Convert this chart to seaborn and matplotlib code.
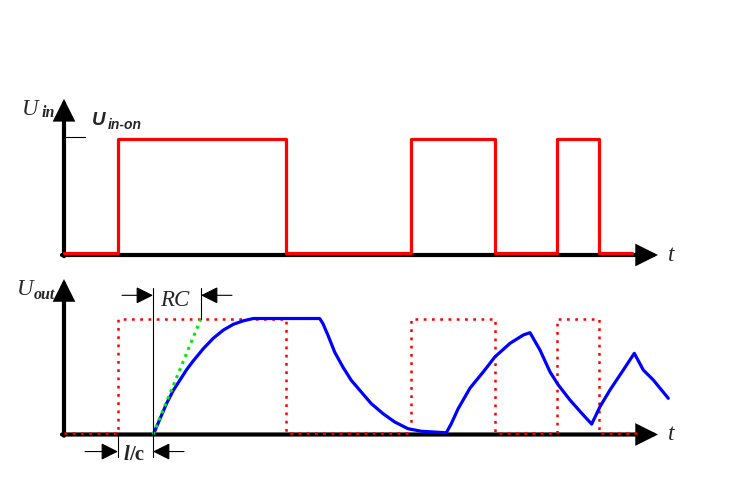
import matplotlib
matplotlib.use("Agg")
import matplotlib.pyplot as plt
import seaborn as sns

# ---------------- data ----------------
# input pulse train: switching times (arbitrary time units) and levels (fraction of U_in-on)
switch_t = [0.0, 5.4, 22.2, 34.7, 43.1, 49.3, 53.5, 56.8]
uin_level = [0.02, 1.0, 0.02, 1.0, 0.02, 1.0, 0.02, 0.02]
switch_t_ref = [0.0, 5.4, 22.2, 34.7, 43.1, 49.3, 53.5, 57.3]
ref_level = [0.015, 1.0, 0.015, 1.0, 0.015, 1.0, 0.015, 0.015]

# delayed RC response
uout_t = [8.93, 9.6, 10.27, 10.93, 11.6, 12.27, 12.93, 13.93, 14.93, 15.93, 16.93, 17.93, 18.93,
          25.57, 25.9, 26.4, 27.07, 27.9, 28.73, 29.73, 30.73, 31.9, 33.07, 34.4, 35.73,
          38.23, 38.73, 39.4, 40.6, 41.93, 43.1, 44.6, 45.93, 46.6,
          47.6, 48.6, 49.43, 50.6, 51.93, 52.77,
          53.6, 54.6, 55.93, 57.03,
          57.93, 58.93, 60.43]
uout_v = [0.0, 0.135, 0.27, 0.38, 0.47, 0.56, 0.635, 0.74, 0.83, 0.90, 0.95, 0.98, 1.0,
          1.0, 0.955, 0.855, 0.71, 0.58, 0.467, 0.366, 0.266, 0.18, 0.108, 0.05, 0.028,
          0.015, 0.093, 0.22, 0.40, 0.54, 0.67, 0.786, 0.858, 0.878,
          0.728, 0.54, 0.427, 0.297, 0.168, 0.09,
          0.24, 0.384, 0.556, 0.70,
          0.556, 0.47, 0.312]

t_on = 5.4      # first switch-on
delay = 3.5     # l/c
rc = 4.8        # RC time constant
t_axis_end = 59.4
v_axis_end = 1.34

# ---------------- figure ----------------
sns.set_theme(style="white")
plt.rcParams["font.family"] = ["Liberation Serif", "DejaVu Serif"]

W, H = 750, 486
fig = plt.figure(figsize=(W / 100, H / 100), dpi=100)
ax_top = fig.add_axes([0, 0, 1, 1])
ax_bot = fig.add_axes([0, 0, 1, 1])
for ax in (ax_top, ax_bot):
    ax.set_facecolor("none")
    ax.set_axis_off()


def arrow(ax, start, end, lw, ms, z=3):
    ax.annotate("", xy=end, xytext=start,
                arrowprops=dict(arrowstyle="-|>,head_length=1.0,head_width=0.5",
                                color="black", lw=lw, mutation_scale=ms,
                                shrinkA=0, shrinkB=0, joinstyle="miter"),
                zorder=z)


# ---- top panel: U_in ----
arrow(ax_top, (-0.2, 0), (t_axis_end, 0), 3.0, 11.5, z=1)
arrow(ax_top, (0, -0.01), (0, v_axis_end), 3.0, 11.5, z=1)
ax_top.plot([0, 2.1], [1.013, 1.013], color="black", lw=0.8)
sns.lineplot(x=switch_t, y=uin_level, ax=ax_top, color="#ff0000", lw=2.3,
             drawstyle="steps-post", estimator=None, sort=False, legend=False, zorder=2)

ax_top.text(-4.2, 1.20, "U", fontsize=16.5, style="italic", ha="left", va="baseline")
ax_top.text(-2.2, 1.185, "in", fontsize=11.5, style="italic", weight="bold", ha="left", va="baseline")
ax_top.text(2.8, 1.116, "U", fontsize=13.5, style="italic", weight="bold",
            family="Liberation Sans", ha="left", va="baseline")
ax_top.text(4.4, 1.082, "in-on", fontsize=10, style="italic", weight="bold",
            family="Liberation Sans", ha="left", va="baseline")
ax_top.text(60.4, -0.05, "t", fontsize=17, style="italic", ha="left", va="baseline")

ax_top.set_xlim(-6.4, 68.6)
ax_top.set_ylim(-1.983, 2.189)

# ---- bottom panel: U_out ----
arrow(ax_bot, (-0.2, 0), (t_axis_end, 0), 3.0, 11.5, z=1)
arrow(ax_bot, (0, -0.01), (0, v_axis_end), 3.0, 11.5, z=1)
sns.lineplot(x=switch_t_ref, y=ref_level, ax=ax_bot, color="#ff0000", lw=1.8,
             drawstyle="steps-post", estimator=None, sort=False, legend=False,
             linestyle=(0, (1.1, 2.2)), zorder=2)
sns.lineplot(x=uout_t, y=uout_v, ax=ax_bot, color="#0000ff", lw=2.3,
             estimator=None, sort=False, legend=False, zorder=3)
sns.lineplot(x=[t_on + delay, t_on + delay + rc], y=[0, 1.0], ax=ax_bot,
             color="#00ee00", lw=2.2, linestyle=(0, (1.0, 1.5)),
             estimator=None, sort=False, legend=False, zorder=4)

# RC and l/c markers
ax_bot.plot([t_on + delay, t_on + delay], [1.26, -0.19], color="black", lw=0.8, zorder=5)
ax_bot.plot([t_on + delay + rc, t_on + delay + rc], [1.26, 1.0], color="black", lw=0.8, zorder=5)
ax_bot.plot([t_on, t_on], [0, -0.19], color="black", lw=0.8, zorder=5)
arrow(ax_bot, (t_on + delay - 3.1, 1.20), (t_on + delay, 1.20), 0.8, 10.5, z=5)
arrow(ax_bot, (t_on + delay + rc + 3.1, 1.20), (t_on + delay + rc, 1.20), 0.8, 10.5, z=5)
arrow(ax_bot, (t_on - 3.3, -0.147), (t_on, -0.147), 0.8, 10.5, z=5)
arrow(ax_bot, (t_on + delay + 3.1, -0.147), (t_on + delay, -0.147), 0.8, 10.5, z=5)

ax_bot.text(-4.7, 1.203, "U", fontsize=16.5, style="italic", ha="left", va="baseline")
ax_bot.text(-3.0, 1.165, "out", fontsize=11.5, style="italic", weight="bold", ha="left", va="baseline")
ax_bot.text(9.6, 1.108, "RC", fontsize=16.5, style="italic", ha="left", va="baseline")
ax_bot.text(5.95, -0.22, "l", fontsize=15, style="italic", weight="bold", ha="left", va="baseline")
ax_bot.text(6.55, -0.22, "/c", fontsize=15, weight="bold", ha="left", va="baseline")
ax_bot.text(60.4, -0.047, "t", fontsize=17, style="italic", ha="left", va="baseline")

ax_bot.set_xlim(-6.4, 68.6)
ax_bot.set_ylim(-0.444, 3.746)

fig.savefig("out.png", dpi=100)
